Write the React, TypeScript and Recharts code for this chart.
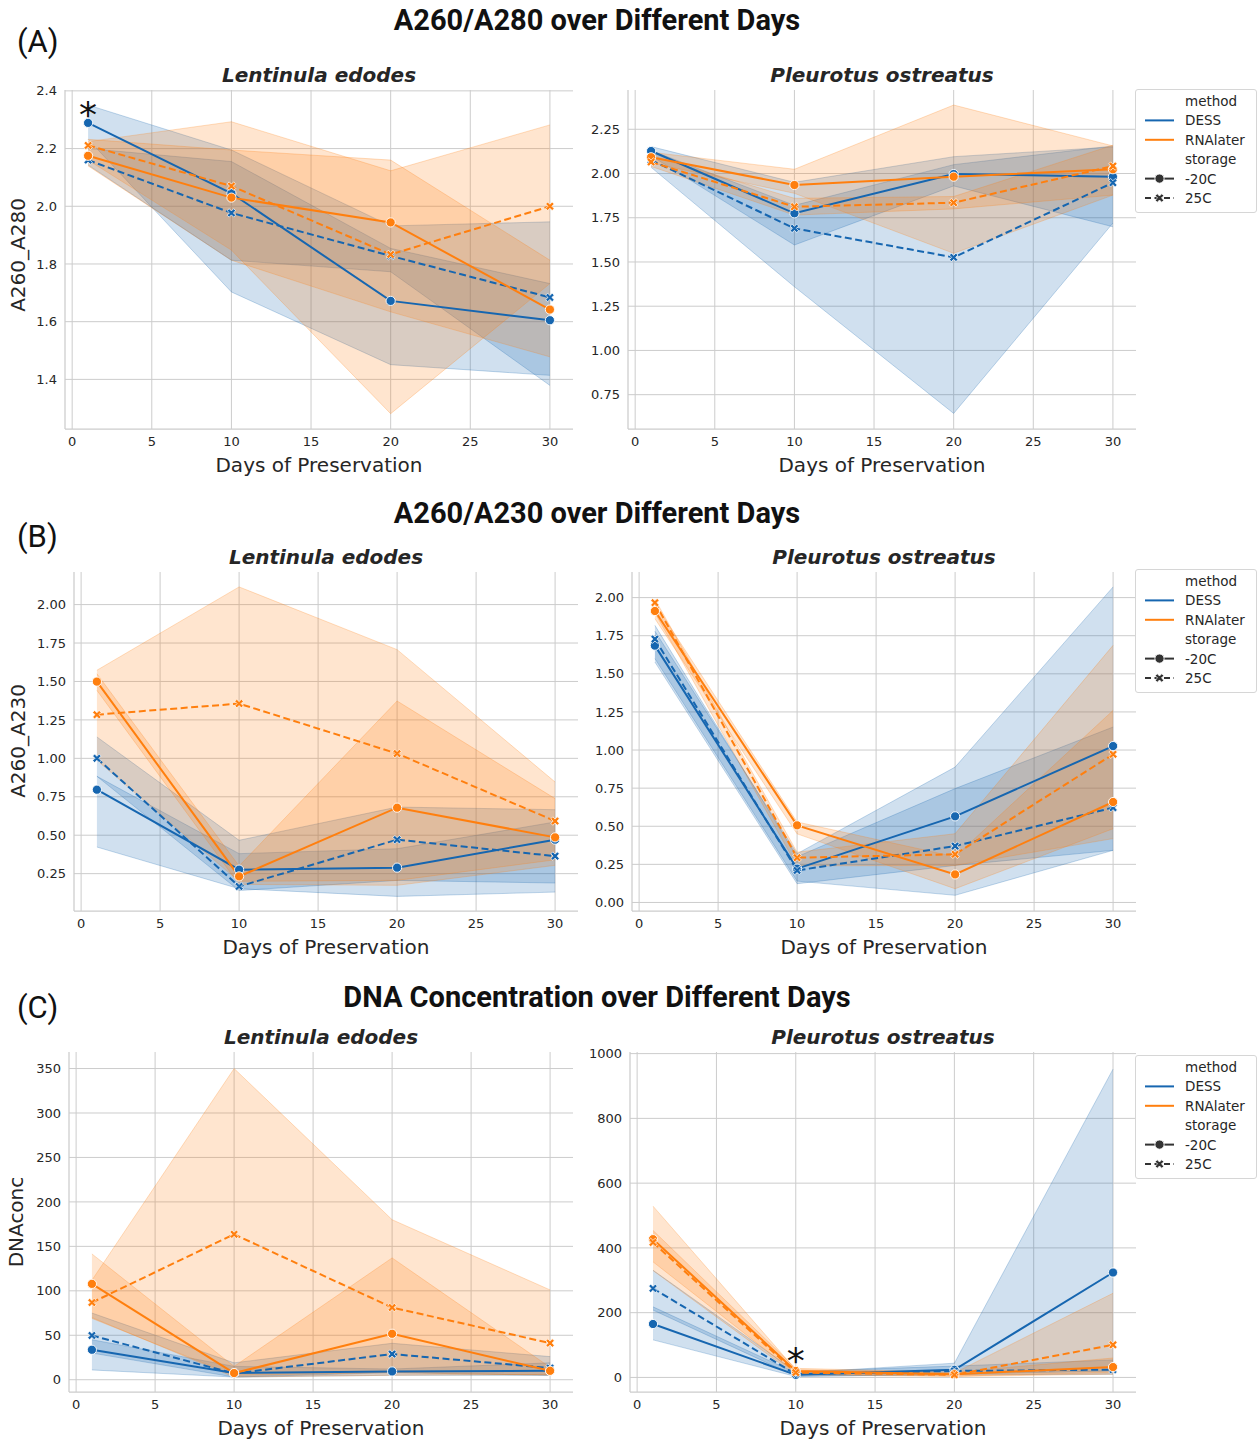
import React from 'react';
import { ComposedChart, Area, Line, XAxis, YAxis, CartesianGrid, ReferenceDot } from 'recharts';

const days = [1, 10, 20, 30];
const dayTicks = [0, 5, 10, 15, 20, 25, 30];

// A260/A280 - Lentinula edodes
const a280LeDessCold = [2.289, 2.045, 1.672, 1.605];
const a280LeDessCold_ci = [[2.232, 2.351], [1.703, 2.195], [1.451, 1.932], [1.414, 1.946]];
const a280LeDessWarm = [2.16, 1.977, 1.828, 1.684];
const a280LeDessWarm_ci = [[2.143, 2.2], [1.813, 2.155], [1.773, 1.854], [1.379, 1.732]];
const a280LeRnaCold = [2.175, 2.03, 1.944, 1.642];
const a280LeRnaCold_ci = [[2.14, 2.232], [1.813, 2.195], [1.634, 2.16], [1.478, 1.813]];
const a280LeRnaWarm = [2.211, 2.07, 1.833, 2.0];
const a280LeRnaWarm_ci = [[2.16, 2.224], [1.848, 2.293], [1.281, 2.123], [1.732, 2.282]];

// A260/A280 - Pleurotus ostreatus
const a280PoDessCold = [2.127, 1.775, 1.997, 1.982];
const a280PoDessCold_ci = [[2.1, 2.152], [1.596, 1.95], [1.93, 2.095], [1.699, 2.15]];
const a280PoDessWarm = [2.076, 1.69, 1.526, 1.948];
const a280PoDessWarm_ci = [[2.035, 2.13], [1.36, 1.82], [0.644, 2.05], [1.72, 2.156]];
const a280PoRnaCold = [2.092, 1.935, 1.982, 2.024];
const a280PoRnaCold_ci = [[2.06, 2.12], [1.888, 2.024], [1.549, 2.387], [1.878, 2.156]];
const a280PoRnaWarm = [2.065, 1.812, 1.835, 2.042];
const a280PoRnaWarm_ci = [[2.04, 2.1], [1.765, 1.86], [1.8, 1.87], [1.878, 2.16]];

// A260/A230 - Lentinula edodes
const a230LeDessCold = [0.796, 0.276, 0.289, 0.471];
const a230LeDessCold_ci = [[0.423, 0.883], [0.152, 0.38], [0.102, 0.412], [0.13, 0.586]];
const a230LeDessWarm = [1.0, 0.167, 0.471, 0.364];
const a230LeDessWarm_ci = [[0.883, 1.139], [0.14, 0.467], [0.206, 0.683], [0.189, 0.666]];
const a230LeRnaCold = [1.499, 0.232, 0.679, 0.486];
const a230LeRnaCold_ci = [[1.442, 1.55], [0.18, 0.3], [0.174, 1.373], [0.304, 0.738]];
const a230LeRnaWarm = [1.284, 1.356, 1.031, 0.592];
const a230LeRnaWarm_ci = [[0.987, 1.573], [0.2, 2.115], [0.206, 1.707], [0.34, 0.846]];

// A260/A230 - Pleurotus ostreatus
const a230PoDessCold = [1.685, 0.222, 0.565, 1.026];
const a230PoDessCold_ci = [[1.577, 1.78], [0.123, 0.32], [0.243, 0.888], [0.342, 2.07]];
const a230PoDessWarm = [1.728, 0.21, 0.37, 0.622];
const a230PoDessWarm_ci = [[1.6, 1.818], [0.14, 0.3], [0.047, 0.747], [0.342, 1.151]];
const a230PoRnaCold = [1.912, 0.506, 0.184, 0.659];
const a230PoRnaCold_ci = [[1.862, 1.96], [0.45, 0.528], [0.09, 0.3], [0.484, 1.26]];
const a230PoRnaWarm = [1.967, 0.294, 0.316, 0.972];
const a230PoRnaWarm_ci = [[1.9, 1.99], [0.24, 0.33], [0.243, 0.451], [0.419, 1.687]];

// DNA concentration - Lentinula edodes
const concLeDessCold = [33.7, 7.5, 9.3, 10];
const concLeDessCold_ci = [[11, 45], [3, 15], [5, 12], [5, 19]];
const concLeDessWarm = [49.8, 7, 28.9, 13.1];
const concLeDessWarm_ci = [[30, 75], [3, 19], [8, 41], [5, 26]];
const concLeRnaCold = [107.8, 7.5, 51.7, 10];
const concLeRnaCold_ci = [[70, 141.5], [3, 15], [5, 137], [6, 14]];
const concLeRnaWarm = [86.8, 163.6, 81.2, 41.2];
const concLeRnaWarm_ci = [[69, 112], [5, 350], [8, 180], [5, 101]];

// DNA concentration - Pleurotus ostreatus
const concPoDessCold = [165, 8, 23.7, 324];
const concPoDessCold_ci = [[116, 218], [3, 14], [10, 44], [20, 952]];
const concPoDessWarm = [275, 10, 20, 24];
const concPoDessWarm_ci = [[208, 331], [4, 18], [8, 35], [10, 54]];
const concPoRnaCold = [427, 20, 10, 32];
const concPoRnaCold_ci = [[357, 454], [12, 28], [4, 16], [15, 60]];
const concPoRnaWarm = [417, 15, 8, 100.6];
const concPoRnaWarm_ci = [[330, 529], [8, 24], [3, 14], [10, 260]];

const a280LeTicks = [1.4, 1.6, 1.8, 2.0, 2.2, 2.4];
const a280PoTicks = [0.75, 1.0, 1.25, 1.5, 1.75, 2.0, 2.25];
const a230LeTicks = [0.25, 0.5, 0.75, 1.0, 1.25, 1.5, 1.75, 2.0];
const a230PoTicks = [0, 0.25, 0.5, 0.75, 1.0, 1.25, 1.5, 1.75, 2.0];
const concLeTicks = [0, 50, 100, 150, 200, 250, 300, 350];
const concPoTicks = [0, 200, 400, 600, 800, 1000];

const BLUE = '#1666b0';
const ORANGE = '#ff7f0e';
const GRID = '#cccccc';
const TEXT = '#262626';

const seriesStyle = [
  { color: BLUE, dashed: false, marker: 'o' },
  { color: BLUE, dashed: true, marker: 'x' },
  { color: ORANGE, dashed: false, marker: 'o' },
  { color: ORANGE, dashed: true, marker: 'x' },
];

type Box = { left: number; top: number; right: number; bottom: number };
type Series = { mean: number[]; ci: number[][] };

const xPts = (() => {
  const e = 4.6;
  const h = 1.4;
  const pts = [[h, e], [h, h], [e, h], [e, -h], [h, -h], [h, -e], [-h, -e], [-h, -h], [-e, -h], [-e, h], [-h, h], [-h, e]];
  return pts.map(([x, y]) => [(x - y) / Math.SQRT2, (x + y) / Math.SQRT2]);
})();

const xPath = (cx: number, cy: number, s = 1) =>
  'M' + xPts.map((p) => `${cx + p[0] * s},${cy + p[1] * s}`).join('L') + 'Z';

const makeDot = (color: string, marker: string) => (p: any) => {
  const { cx, cy, index } = p;
  if (cx == null || cy == null) return <g key={index} />;
  if (marker === 'o') {
    return <circle key={index} cx={cx} cy={cy} r={4.6} fill={color} stroke="#fff" strokeWidth={0.9} />;
  }
  return <path key={index} d={xPath(cx, cy)} fill={color} stroke="#fff" strokeWidth={0.7} />;
};

const tickStyle = { fontSize: 13, fontFamily: 'DejaVu Sans', fill: TEXT };

function Panel({ box, yDomain, yTicks, yFmt, series, star }: {
  box: Box; yDomain: number[]; yTicks: number[]; yFmt: (v: number) => string; series: Series[]; star?: { x: number; y: number };
}) {
  const plotW = box.right - box.left;
  const plotH = box.bottom - box.top;
  const rows = days.map((d, i) => {
    const r: any = { day: d };
    series.forEach((s, k) => {
      r['m' + k] = s.mean[i];
      r['c' + k] = s.ci[i];
    });
    return r;
  });
  return (
    <div style={{ position: 'absolute', left: box.left - 60, top: box.top - 10 }}>
      <ComposedChart width={plotW + 62} height={plotH + 50} data={rows} margin={{ top: 10, right: 2, bottom: 0, left: 0 }}>
        <CartesianGrid stroke={GRID} strokeWidth={1} syncWithTicks />
        <XAxis dataKey="day" type="number" domain={[-0.45, 31.45]} ticks={dayTicks} allowDataOverflow interval={0}
          tickLine={false} axisLine={{ stroke: GRID, strokeWidth: 1.25 }} tick={tickStyle} height={40} />
        <YAxis type="number" domain={yDomain} ticks={yTicks} allowDataOverflow interval={0} tickFormatter={yFmt}
          tickLine={false} axisLine={{ stroke: GRID, strokeWidth: 1.25 }} tick={tickStyle} width={60} />
        {series.map((_, k) => (
          <Area key={'a' + k} dataKey={'c' + k} type="linear" fill={seriesStyle[k].color} fillOpacity={0.2}
            stroke={seriesStyle[k].color} strokeOpacity={0.25} strokeWidth={1} dot={false} activeDot={false}
            isAnimationActive={false} />
        ))}
        {series.map((_, k) => (
          <Line key={'l' + k} dataKey={'m' + k} type="linear" stroke={seriesStyle[k].color} strokeWidth={2}
            strokeDasharray={seriesStyle[k].dashed ? '7 3.5' : undefined}
            dot={makeDot(seriesStyle[k].color, seriesStyle[k].marker)} activeDot={false} isAnimationActive={false} />
        ))}
        {star && (
          <ReferenceDot x={star.x} y={star.y} ifOverflow="visible"
            shape={(p: any) => (
              <text x={p.cx} y={p.cy + 21} textAnchor="middle" fontSize={36} fontFamily="DejaVu Sans" fill="#111">*</text>
            )} />
        )}
      </ComposedChart>
    </div>
  );
}

function LegendBox({ top }: { top: number }) {
  const rowY = (i: number) => 11 + i * 19.4;
  const labels = ['method', 'DESS', 'RNAlater', 'storage', '-20C', '25C'];
  return (
    <div style={{ position: 'absolute', left: 1135, top, width: 120, height: 122, border: '1px solid #d6d6d6', borderRadius: 3, background: '#fff' }}>
      <svg width={40} height={122} style={{ position: 'absolute', left: 0, top: 0 }}>
        <line x1={9} x2={38} y1={rowY(1)} y2={rowY(1)} stroke={BLUE} strokeWidth={2} />
        <line x1={9} x2={38} y1={rowY(2)} y2={rowY(2)} stroke={ORANGE} strokeWidth={2} />
        <line x1={9} x2={38} y1={rowY(4)} y2={rowY(4)} stroke="#333" strokeWidth={2} />
        <circle cx={23.5} cy={rowY(4)} r={4.6} fill="#333" stroke="#fff" strokeWidth={0.9} />
        <line x1={9} x2={38} y1={rowY(5)} y2={rowY(5)} stroke="#333" strokeWidth={2} strokeDasharray="6 3.5" />
        <path d={xPath(23.5, rowY(5))} fill="#333" stroke="#fff" strokeWidth={0.7} />
      </svg>
      {labels.map((t, i) => (
        <div key={t} style={{ position: 'absolute', left: 49, top: rowY(i) - 8, fontSize: 13.5, lineHeight: '16px', fontFamily: 'DejaVu Sans', color: TEXT }}>{t}</div>
      ))}
    </div>
  );
}

const abs = (s: React.CSSProperties): React.CSSProperties => ({ position: 'absolute', whiteSpace: 'nowrap', ...s });

function Texts({ title, letter, titleY, letterY, yLabel, yLabelPos, left, right }: any) {
  const lc = (left.left + left.right) / 2;
  const rc = (right.left + right.right) / 2;
  const sub = { fontFamily: 'DejaVu Sans', fontWeight: 700, fontStyle: 'italic', fontSize: 20, lineHeight: '22px', color: TEXT, width: 320, textAlign: 'center' as const };
  const xl = { fontFamily: 'DejaVu Sans', fontSize: 20, lineHeight: '24px', color: TEXT, width: 300, textAlign: 'center' as const };
  return (
    <>
      <div style={abs({ left: 0, width: 1194, top: titleY - 16, textAlign: 'center', fontFamily: 'Roboto', fontWeight: 700, fontSize: 29, lineHeight: '32px', color: '#111' })}>{title}</div>
      <div style={abs({ left: 17, top: letterY - 18, fontFamily: 'Roboto', fontSize: 31, lineHeight: '36px', color: '#111' })}>{letter}</div>
      <div style={abs({ ...sub, left: lc - 160, top: left.top - 26 })}>Lentinula edodes</div>
      <div style={abs({ ...sub, left: rc - 160, top: right.top - 26 })}>Pleurotus ostreatus</div>
      <div style={abs({ ...xl, left: lc - 150, top: left.bottom + 24 })}>Days of Preservation</div>
      <div style={abs({ ...xl, left: rc - 150, top: right.bottom + 24 })}>Days of Preservation</div>
      <div style={abs({ ...xl, left: yLabelPos[0] - 150, top: yLabelPos[1] - 12, transform: 'rotate(-90deg)' })}>{yLabel}</div>
    </>
  );
}

const f1 = (v: number) => v.toFixed(1);
const f2 = (v: number) => v.toFixed(2);
const f0 = (v: number) => v.toFixed(0);

const boxALeft = { left: 65, top: 90, right: 573, bottom: 429 };
const boxARight = { left: 628, top: 90, right: 1136, bottom: 429 };
const boxBLeft = { left: 74, top: 572, right: 578, bottom: 911 };
const boxBRight = { left: 632, top: 572, right: 1136, bottom: 911 };
const boxCLeft = { left: 69, top: 1052, right: 573, bottom: 1392 };
const boxCRight = { left: 630, top: 1052, right: 1136, bottom: 1392 };

export default function App() {
  return (
    <div style={{ position: 'absolute', left: 0, top: 0, width: 1259, height: 1441, background: '#fff', overflow: 'hidden' }}>
      <Texts title="A260/A280 over Different Days" letter="(A)" titleY={20} letterY={42} yLabel="A260_A280" yLabelPos={[18, 255]} left={boxALeft} right={boxARight} />
      <Texts title="A260/A230 over Different Days" letter="(B)" titleY={513} letterY={537} yLabel="A260_A230" yLabelPos={[18, 741]} left={boxBLeft} right={boxBRight} />
      <Texts title="DNA Concentration over Different Days" letter="(C)" titleY={997} letterY={1008} yLabel="DNAconc" yLabelPos={[16, 1222]} left={boxCLeft} right={boxCRight} />

      <Panel box={boxALeft} yDomain={[1.228, 2.403]} yTicks={a280LeTicks} yFmt={f1} star={{ x: 1, y: 2.347 }}
        series={[
          { mean: a280LeDessCold, ci: a280LeDessCold_ci },
          { mean: a280LeDessWarm, ci: a280LeDessWarm_ci },
          { mean: a280LeRnaCold, ci: a280LeRnaCold_ci },
          { mean: a280LeRnaWarm, ci: a280LeRnaWarm_ci },
        ]} />
      <Panel box={boxARight} yDomain={[0.556, 2.472]} yTicks={a280PoTicks} yFmt={f2}
        series={[
          { mean: a280PoDessCold, ci: a280PoDessCold_ci },
          { mean: a280PoDessWarm, ci: a280PoDessWarm_ci },
          { mean: a280PoRnaCold, ci: a280PoRnaCold_ci },
          { mean: a280PoRnaWarm, ci: a280PoRnaWarm_ci },
        ]} />
      <Panel box={boxBLeft} yDomain={[0.007, 2.212]} yTicks={a230LeTicks} yFmt={f2}
        series={[
          { mean: a230LeDessCold, ci: a230LeDessCold_ci },
          { mean: a230LeDessWarm, ci: a230LeDessWarm_ci },
          { mean: a230LeRnaCold, ci: a230LeRnaCold_ci },
          { mean: a230LeRnaWarm, ci: a230LeRnaWarm_ci },
        ]} />
      <Panel box={boxBRight} yDomain={[-0.056, 2.168]} yTicks={a230PoTicks} yFmt={f2}
        series={[
          { mean: a230PoDessCold, ci: a230PoDessCold_ci },
          { mean: a230PoDessWarm, ci: a230PoDessWarm_ci },
          { mean: a230PoRnaCold, ci: a230PoRnaCold_ci },
          { mean: a230PoRnaWarm, ci: a230PoRnaWarm_ci },
        ]} />
      <Panel box={boxCLeft} yDomain={[-13.8, 368.6]} yTicks={concLeTicks} yFmt={f0}
        series={[
          { mean: concLeDessCold, ci: concLeDessCold_ci },
          { mean: concLeDessWarm, ci: concLeDessWarm_ci },
          { mean: concLeRnaCold, ci: concLeRnaCold_ci },
          { mean: concLeRnaWarm, ci: concLeRnaWarm_ci },
        ]} />
      <Panel box={boxCRight} yDomain={[-45, 1005]} yTicks={concPoTicks} yFmt={f0} star={{ x: 10, y: 80 }}
        series={[
          { mean: concPoDessCold, ci: concPoDessCold_ci },
          { mean: concPoDessWarm, ci: concPoDessWarm_ci },
          { mean: concPoRnaCold, ci: concPoRnaCold_ci },
          { mean: concPoRnaWarm, ci: concPoRnaWarm_ci },
        ]} />

      <LegendBox top={89} />
      <LegendBox top={569} />
      <LegendBox top={1055} />
    </div>
  );
}
